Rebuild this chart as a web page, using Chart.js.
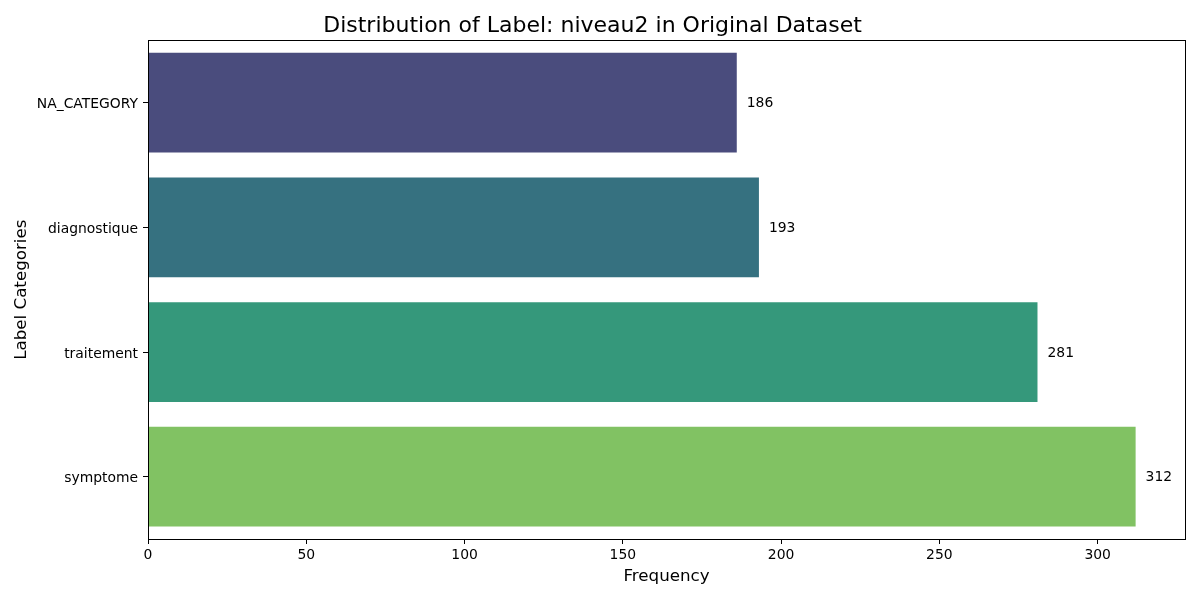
<!DOCTYPE html>
<html>
<head>
<meta charset="utf-8">
<script src="https://cdn.jsdelivr.net/npm/chart.js@4"></script>
<style>
  html, body { margin: 0; padding: 0; background: #fff; }
  #wrap { width: 1200px; height: 600px; }
</style>
</head>
<body>
<div id="wrap"><canvas id="chart" width="1200" height="600"></canvas></div>
<script>
var categories = ["NA_CATEGORY", "diagnostique", "traitement", "symptome"];
var counts = [186, 193, 281, 312];
var barColors = ["#4a4c7d", "#367180", "#35987b", "#81c263"];
var xTickValues = [0, 50, 100, 150, 200, 250, 300];
var xMax = 327.6;

var FONT = "'DejaVu Sans', sans-serif";

// frame on all four sides + value labels at the bar ends
var extras = {
  id: "extras",
  afterDatasetsDraw: function (chart) {
    var ctx = chart.ctx;
    var area = chart.chartArea;
    var meta = chart.getDatasetMeta(0);
    ctx.save();
    ctx.fillStyle = "#000";
    ctx.font = "13.9px " + FONT;
    ctx.textAlign = "left";
    ctx.textBaseline = "middle";
    meta.data.forEach(function (bar, i) {
      ctx.fillText(String(counts[i]), bar.x + 10, bar.y + 1);
    });
    ctx.strokeStyle = "#000";
    ctx.lineWidth = 1;
    ctx.strokeRect(Math.round(area.left) + 0.5, Math.round(area.top) + 0.5,
      Math.round(area.right - area.left), Math.round(area.bottom - area.top));
    ctx.restore();
  }
};

new Chart(document.getElementById("chart"), {
  type: "bar",
  data: {
    labels: categories,
    datasets: [{
      data: counts,
      backgroundColor: barColors,
      borderWidth: 0,
      categoryPercentage: 1,
      barPercentage: 0.8
    }]
  },
  options: {
    indexAxis: "y",
    responsive: false,
    animation: false,
    devicePixelRatio: 1,
    layout: { padding: { left: 0, right: 15, top: 0, bottom: 0 } },
    plugins: {
      legend: { display: false },
      tooltip: { enabled: false },
      title: {
        display: true,
        text: "Distribution of Label: niveau2 in Original Dataset",
        color: "#000",
        font: { family: FONT, size: 22, weight: "normal" },
        padding: { top: 13, bottom: 1 }
      }
    },
    scales: {
      x: {
        min: 0,
        max: xMax,
        afterBuildTicks: function (scale) {
          scale.ticks = xTickValues.map(function (v) { return { value: v }; });
        },
        afterFit: function (scale) { scale.height = 61; },
        grid: { display: true, drawOnChartArea: false, drawTicks: true, tickLength: 5, color: "#000" },
        border: { display: true, color: "#000" },
        ticks: { color: "#000", font: { family: FONT, size: 13.9 }, padding: 3, maxRotation: 0 },
        title: {
          display: true,
          text: "Frequency",
          color: "#000",
          font: { family: FONT, size: 16.7 },
          padding: { top: 2, bottom: 13 }
        }
      },
      y: {
        afterFit: function (scale) { scale.width = 148; },
        grid: { display: true, offset: false, drawOnChartArea: false, drawTicks: true, tickLength: 5, color: "#000" },
        border: { display: true, color: "#000" },
        ticks: { color: "#000", font: { family: FONT, size: 13.9 }, padding: 5, labelOffset: 2 },
        title: {
          display: true,
          text: "Label Categories",
          color: "#000",
          font: { family: FONT, size: 16.7 },
          padding: { top: 12, bottom: 0 }
        }
      }
    }
  },
  plugins: [extras]
});
</script>
</body>
</html>
